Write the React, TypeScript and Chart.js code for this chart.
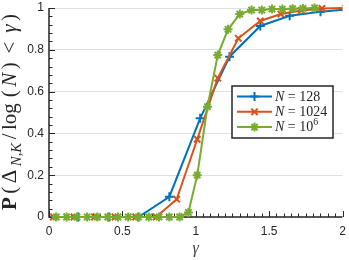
import React, { useEffect, useRef } from "react";
import { Chart, registerables } from "chart.js";

Chart.register(...registerables);

// ---- data ----
const gammaN128 = [0.2, 0.41, 0.61, 0.82, 1.03, 1.23, 1.44, 1.64, 1.85, 2.05];
const probN128 = [0, 0, 0, 0.097, 0.472, 0.767, 0.914, 0.963, 0.982, 0.995];

const gammaN1024 = [0.03, 0.17, 0.31, 0.45, 0.59, 0.73, 0.87, 1.01, 1.15, 1.29, 1.44, 1.58, 1.72, 1.86, 2.02];
const probN1024 = [0, 0, 0, 0, 0, 0, 0.085, 0.372, 0.664, 0.855, 0.938, 0.971, 0.988, 0.998, 1.0];

const gammaN1e6 = [0.05, 0.12, 0.19, 0.26, 0.33, 0.4, 0.47, 0.54, 0.61, 0.68, 0.75, 0.82, 0.89, 0.95, 1.01, 1.08, 1.15, 1.22, 1.3, 1.38, 1.45, 1.52, 1.59, 1.66, 1.73, 1.81];
const probN1e6 = [0, 0, 0, 0, 0, 0, 0, 0, 0, 0, 0, 0, 0, 0.022, 0.2, 0.528, 0.775, 0.898, 0.971, 0.99, 0.99, 0.995, 0.995, 0.997, 0.998, 1.0];

const xTicks = [0, 0.5, 1, 1.5, 2];
const yTicks = [0, 0.2, 0.4, 0.6, 0.8, 1];

const BLUE = "#0072BD";
const ORANGE = "#D95319";
const GREEN = "#77AC30";
const AXIS = "#262626";
const SERIF = "'Liberation Serif', 'DejaVu Serif', serif";

type Part = { t: string; style?: string; size?: number; dy?: number; gap?: number };

function fontOf(p: Part, base: number) {
  const size = ((p.size || 1) * base).toFixed(2);
  return p.style ? `${p.style} ${size}px ${SERIF}` : `${size}px ${SERIF}`;
}

function partsWidth(ctx: CanvasRenderingContext2D, parts: Part[], base: number) {
  let w = 0;
  for (const p of parts) {
    ctx.font = fontOf(p, base);
    w += ctx.measureText(p.t).width + (p.gap || 0) * base;
  }
  return w;
}

function drawParts(ctx: CanvasRenderingContext2D, parts: Part[], base: number, x: number, y: number, extra = 0) {
  let cx = x;
  for (const p of parts) {
    ctx.font = fontOf(p, base);
    ctx.fillText(p.t, cx, y + (p.dy || 0) * base);
    cx += ctx.measureText(p.t).width + (p.gap || 0) * base + extra;
  }
}

const yTitleParts: Part[] = [
  { t: "P", style: "bold" },
  { t: "(" },
  { t: "Δ" },
  { t: "N,K", style: "italic", size: 0.7, dy: 0.25 },
  { t: "/" },
  { t: "log", gap: 0.12 },
  { t: "(" },
  { t: "N", style: "italic" },
  { t: ")", gap: 0.25 },
  { t: "<", gap: 0.25 },
  { t: "γ", style: "italic" },
  { t: ")" },
];

const legendEntries: { color: string; style: string; parts: Part[] }[] = [
  { color: BLUE, style: "cross", parts: [{ t: "N", style: "italic" }, { t: " = 128" }] },
  { color: ORANGE, style: "crossRot", parts: [{ t: "N", style: "italic" }, { t: " = 1024" }] },
  { color: GREEN, style: "star", parts: [{ t: "N", style: "italic" }, { t: " = 10" }, { t: "6", size: 0.7, dy: -0.4 }] },
];

function drawMarker(ctx: CanvasRenderingContext2D, style: string, x: number, y: number, r: number) {
  ctx.lineWidth = 2;
  ctx.beginPath();
  if (style === "cross" || style === "star") {
    ctx.moveTo(x - r, y); ctx.lineTo(x + r, y);
    ctx.moveTo(x, y - r); ctx.lineTo(x, y + r);
  }
  if (style === "crossRot" || style === "star") {
    const d = r * Math.SQRT1_2;
    ctx.moveTo(x - d, y - d); ctx.lineTo(x + d, y + d);
    ctx.moveTo(x - d, y + d); ctx.lineTo(x + d, y - d);
  }
  ctx.stroke();
}

const decorPlugin = {
  id: "decor",
  beforeDatasetsDraw(chart: any) {
    const ctx: CanvasRenderingContext2D = chart.ctx;
    const { left, right, top, bottom } = chart.chartArea;
    const xs = chart.scales.x;
    const ys = chart.scales.y;
    ctx.save();
    ctx.strokeStyle = AXIS;
    ctx.lineWidth = 1;
    for (let i = 0; i <= 40; i++) {
      const v = i * 0.05;
      const px = Math.round(xs.getPixelForValue(v)) + 0.5;
      const len = i % 10 === 0 ? 6 : 3.5;
      ctx.beginPath();
      ctx.moveTo(px, bottom);
      ctx.lineTo(px, bottom - len);
      ctx.stroke();
    }
    for (let i = 0; i <= 25; i++) {
      const v = i * 0.04;
      const py = Math.round(ys.getPixelForValue(v)) + 0.5;
      const len = i % 5 === 0 ? 6 : 3.5;
      ctx.beginPath();
      ctx.moveTo(left, py);
      ctx.lineTo(left + len, py);
      ctx.stroke();
    }
    ctx.lineWidth = 1.5;
    ctx.beginPath();
    ctx.moveTo(left, top);
    ctx.lineTo(left, bottom);
    ctx.lineTo(right, bottom);
    ctx.stroke();

    // y title (rotated)
    ctx.fillStyle = AXIS;
    ctx.textBaseline = "alphabetic";
    ctx.textAlign = "left";
    const target = 196;
    const base = 21;
    const w = partsWidth(ctx, yTitleParts, base);
    const extra = Math.max(0, (target - w) / (yTitleParts.length - 1));
    ctx.translate(16, 112);
    ctx.rotate(-Math.PI / 2);
    drawParts(ctx, yTitleParts, base, -target / 2, 0, extra);
    ctx.restore();

    // x title
    ctx.save();
    ctx.fillStyle = "#404040";
    ctx.font = `italic 16px ${SERIF}`;
    ctx.textAlign = "center";
    ctx.textBaseline = "alphabetic";
    ctx.fillText("γ", (left + right) / 2, 253);
    ctx.restore();
  },
  afterDatasetsDraw(chart: any) {
    const ctx: CanvasRenderingContext2D = chart.ctx;
    ctx.save();
    const bx = 232, by = 86, bw = 101, bh = 52;
    ctx.fillStyle = "#ffffff";
    ctx.fillRect(bx, by, bw, bh);
    ctx.strokeStyle = AXIS;
    ctx.lineWidth = 1.5;
    ctx.strokeRect(bx, by, bw, bh);
    legendEntries.forEach((e, i) => {
      const y = 96.5 + i * 15.3;
      ctx.strokeStyle = e.color;
      ctx.fillStyle = e.color;
      ctx.lineWidth = 2;
      ctx.beginPath();
      ctx.moveTo(237, y);
      ctx.lineTo(272, y);
      ctx.stroke();
      drawMarker(ctx, e.style, 254.5, y, 4.5);
      ctx.fillStyle = AXIS;
      ctx.textBaseline = "middle";
      drawParts(ctx, e.parts, 14, 275, y + 0.5);
    });
    ctx.restore();
  },
};

function toPoints(xs: number[], ys: number[]) {
  return xs.map((x, i) => ({ x, y: ys[i] }));
}

export default function App() {
  const ref = useRef<HTMLCanvasElement | null>(null);
  useEffect(() => {
    document.body.style.margin = "0";
    const canvas = ref.current!;
    const common = {
      showLine: true,
      borderWidth: 2,
      pointBorderWidth: 2,
      pointRadius: 4.5,
      tension: 0,
      clip: { left: 10, top: 10, right: 0, bottom: 10 },
    };
    const chart = new Chart(canvas, {
      type: "scatter",
      data: {
        datasets: [
          { ...common, label: "N = 128", data: toPoints(gammaN128, probN128), borderColor: BLUE, backgroundColor: BLUE, pointStyle: "cross", order: 3 },
          { ...common, label: "N = 1024", data: toPoints(gammaN1024, probN1024), borderColor: ORANGE, backgroundColor: ORANGE, pointStyle: "crossRot", order: 2 },
          { ...common, label: "N = 10^6", data: toPoints(gammaN1e6, probN1e6), borderColor: GREEN, backgroundColor: GREEN, pointStyle: "star", order: 1 },
        ] as any,
      },
      options: {
        animation: false,
        responsive: false,
        layout: { padding: { left: 0, right: 5, top: 8, bottom: 0 } },
        plugins: { legend: { display: false }, tooltip: { enabled: false } },
        scales: {
          x: {
            type: "linear",
            min: 0,
            max: 2,
            afterBuildTicks: (s: any) => { s.ticks = xTicks.map((v) => ({ value: v })); },
            afterFit: (s: any) => { s.height = 43; s.paddingLeft = 0; s.paddingRight = 0; },
            ticks: {
              color: AXIS,
              padding: 7,
              font: { family: "'Liberation Sans', Arial, sans-serif", size: 12 },
              callback: (v: any) => String(Math.round(Number(v) * 10) / 10),
            },
            grid: { display: false, drawTicks: false },
            border: { display: false },
          },
          y: {
            type: "linear",
            min: 0,
            max: 1,
            afterBuildTicks: (s: any) => { s.ticks = yTicks.map((v) => ({ value: v })); },
            afterFit: (s: any) => { s.width = 49; s.paddingTop = 0; s.paddingBottom = 0; },
            ticks: {
              color: AXIS,
              padding: 5,
              font: { family: "'Liberation Sans', Arial, sans-serif", size: 12 },
              callback: (v: any) => String(Math.round(Number(v) * 10) / 10),
            },
            grid: { display: true, color: "#e0e0e0", lineWidth: 1, drawTicks: false },
            border: { display: false },
          },
        },
      },
      plugins: [decorPlugin],
    });
    return () => chart.destroy();
  }, []);
  return (
    <div style={{ width: 349, height: 260 }}>
      <canvas ref={ref} width={349} height={260} style={{ display: "block" }} />
    </div>
  );
}
